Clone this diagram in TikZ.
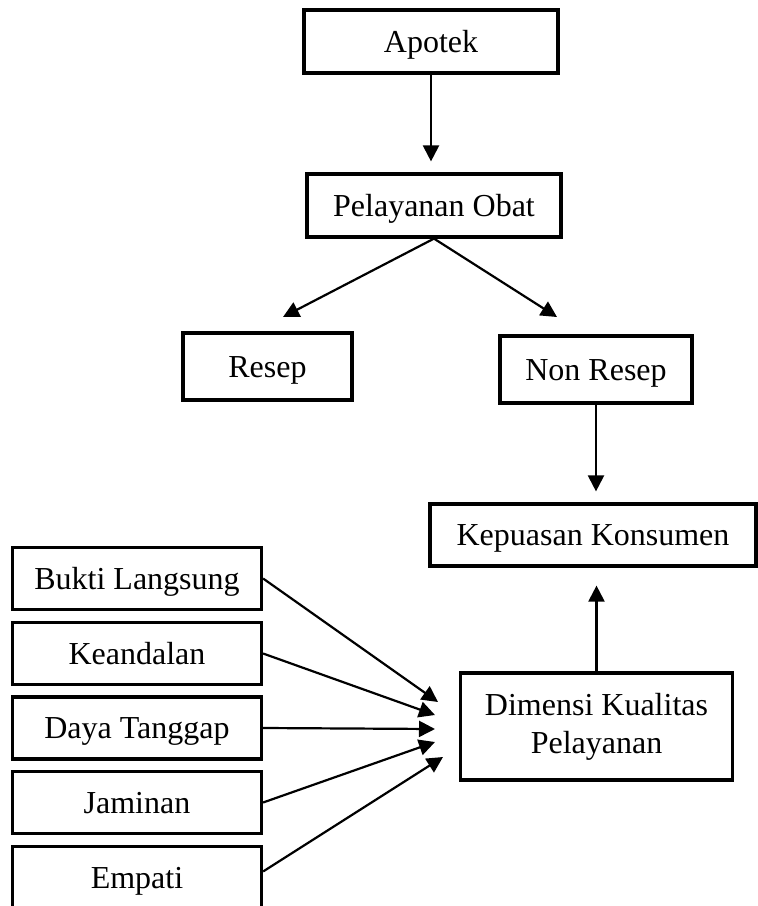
\documentclass[tikz,border=0pt]{standalone}
\usepackage{fontspec}
\setmainfont{Liberation Serif}
\usetikzlibrary{arrows.meta,positioning}

\begin{document}
\begin{tikzpicture}[x=0.5pt,y=-0.5pt,
    box/.style={draw,line width=1.6pt,inner sep=0pt,align=center,
      font=\fontsize{16}{19}\selectfont},
    onebox/.style={box,text height=10.6pt,text depth=0pt},
    dimbox/.style={onebox,minimum width=124.5pt,minimum height=31pt},
    arr/.style={-{Triangle[length=8pt,width=8pt]},line width=1.1pt}]
        \useasboundingbox (0,0) rectangle (757,906);
        % alur utama
        \node[onebox,minimum width=127pt,minimum height=31.5pt] (apotek) at (431,41.5) {Apotek};
        \node[onebox,minimum width=127pt,minimum height=31.5pt] (pelayanan) at (434,205.5) {Pelayanan Obat};
        \node[onebox,minimum width=84.5pt,minimum height=33.5pt] (resep) at (267.5,366.5) {Resep};
        \node[onebox,minimum width=96pt,minimum height=33.5pt] (nonresep) at (596,369.5) {Non Resep};
        \node[onebox,minimum width=163pt,minimum height=31pt] (kepuasan) at (593,535) {Kepuasan Konsumen};
        \node[box,minimum width=136pt,minimum height=53.5pt] (dimensi) at (596.5,726.5) {Dimensi Kualitas\\Pelayanan};
        % dimensi kualitas
        \node[dimbox] (bukti) at (137,578.5) {Bukti Langsung};
        \node[dimbox] (keandalan) at (137,653.5) {Keandalan};
        \node[dimbox] (daya) at (137,728) {Daya Tanggap};
        \node[dimbox] (jaminan) at (137,802.5) {Jaminan};
        \node[dimbox] (empati) at (137,877.5) {Empati};
        \coordinate (toresep) at (283,317);
        \coordinate (tononresep) at (557,317);
        \coordinate (inbukti) at (438,702);
        \coordinate (inkeandalan) at (435,715);
        \coordinate (indaya) at (435,729);
        \coordinate (injaminan) at (435,742);
        \coordinate (inempati) at (443,757);
        \draw[arr,shorten >=5.5pt] (apotek.south) -- (apotek.south |- pelayanan.north);
        \draw[arr] (pelayanan.south) -- (toresep);
        \draw[arr] (pelayanan.south) -- (tononresep);
        \draw[arr,shorten >=5.5pt] (nonresep.south) -- (nonresep.south |- kepuasan.north);
        \draw[arr,shorten >=9pt] (dimensi.north) -- (dimensi.north |- kepuasan.south);
        \draw[arr] (bukti.east) -- (inbukti);
        \draw[arr] (keandalan.east) -- (inkeandalan);
        \draw[arr] (daya.east) -- (indaya);
        \draw[arr] (jaminan.east) -- (injaminan);
        \draw[arr] ([yshift=3pt]empati.east) -- (inempati);
      \end{tikzpicture}
\end{document}
